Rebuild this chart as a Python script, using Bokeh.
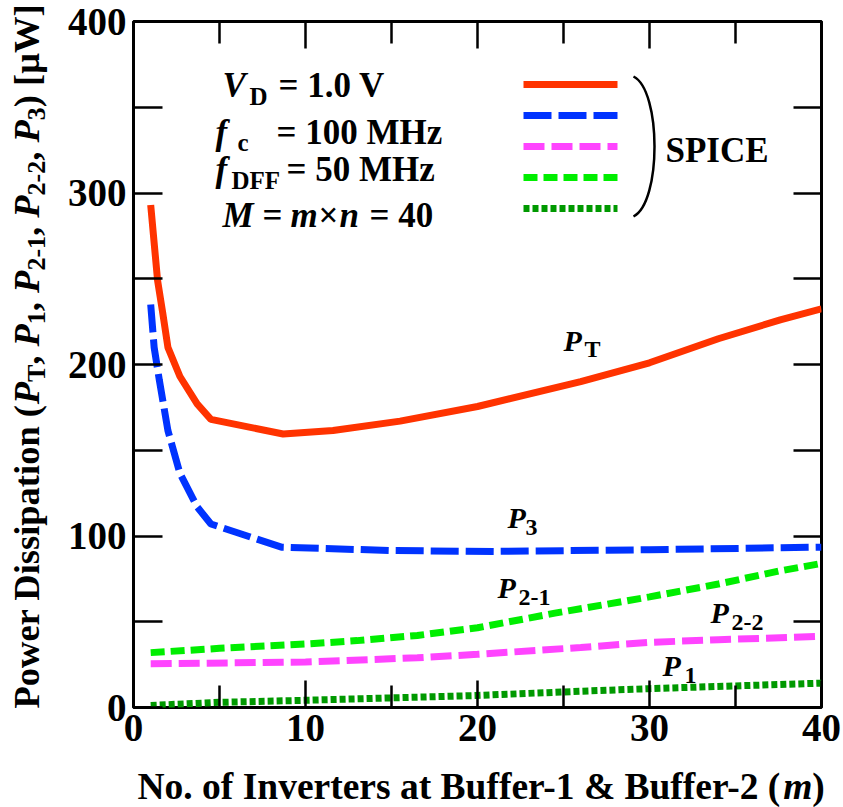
from math import pi
from bokeh.plotting import figure
from bokeh.models import LinearAxis, FixedTicker, Label, Range1d
from bokeh.layouts import row, column
from bokeh.embed import file_html
from bokeh.resources import INLINE

# ---------------- data ----------------
m_PT = [1, 1.4, 1.7, 2.0, 2.7, 3.7, 4.5, 8.7, 11.6, 15.5, 20, 26, 30, 34, 37.6, 40]
P_T  = [293, 249, 230, 210, 193, 177, 168, 159.5, 161.5, 167, 175.5, 190, 201, 215, 226, 232.5]

m_P3 = [1, 1.2, 1.5, 2.0, 2.7, 3.7, 4.5, 8.6, 15, 21, 30, 40]
P_3  = [235, 210, 191, 161.5, 136.5, 117, 107, 93.5, 91.5, 91, 92, 93.5]

m_P21 = [1, 5, 10, 13, 16.5, 20, 24.5, 30, 34, 37.5, 40]
P_21  = [32, 34.5, 37, 39, 42, 46.5, 55, 64.5, 72, 79.5, 84]

m_P22 = [1, 10, 16.5, 20, 26, 30, 34, 40]
P_22  = [25.5, 26.5, 29, 31, 35, 38, 39.5, 41.5]

m_P1 = [1, 5, 10, 16.5, 20, 26, 30, 40]
P_1  = [1.2, 3, 4.2, 6, 7, 9.5, 11, 14.2]

x_ticks = [0, 10, 20, 30, 40]
x_minor = [5, 15, 25, 35]
y_ticks = [0, 100, 200, 300, 400]
y_minor = [50, 150, 250, 350]

# ---------------- layout constants (page pixels) ----------------
FONT = "Liberation Serif"
W, H = 843, 807
YW = 50            # width of the y-label strip
XH = 40            # height of the x-label strip
L, R, T, B = 133, 821, 21, 707   # plot frame in page pixels
X0, X1, Y0, Y1 = 0, 40, 0, 400
MID = 0.335        # Label text is centred on its anchor: cap-middle offset from baseline (em)

def dx(px):
    return X0 + (px - L) / (R - L) * (X1 - X0)

def dy(py):
    return Y0 + (B - py) / (B - T) * (Y1 - Y0)

MH = H - XH
p = figure(width=W - YW, height=MH, x_range=Range1d(X0, X1), y_range=Range1d(Y0, Y1),
           output_backend="svg", toolbar_location=None,
           x_axis_location=None, y_axis_location=None,
           min_border_left=L - YW, min_border_right=W - R, min_border_top=T, min_border_bottom=MH - B)
p.xgrid.visible = False
p.ygrid.visible = False
p.outline_line_color = "black"
p.outline_line_width = 3
p.background_fill_color = "white"
p.border_fill_color = "white"

bot_ax, top_ax, left_ax, right_ax = LinearAxis(), LinearAxis(), LinearAxis(), LinearAxis()
p.add_layout(bot_ax, "below")
p.add_layout(top_ax, "above")
p.add_layout(left_ax, "left")
p.add_layout(right_ax, "right")

def style_axis(ax, ticks, minor, tick_len, minor_len, labels):
    ax.ticker = FixedTicker(ticks=ticks, minor_ticks=minor)
    ax.axis_line_color = None
    ax.major_tick_in = tick_len
    ax.major_tick_out = 0
    ax.minor_tick_in = minor_len
    ax.minor_tick_out = 0
    ax.major_tick_line_width = 2.5
    ax.minor_tick_line_width = 2.5
    ax.major_tick_line_color = "black"
    ax.minor_tick_line_color = "black"
    if labels:
        ax.major_label_text_font = FONT
        ax.major_label_text_font_style = "bold"
        ax.major_label_text_font_size = "39px"
        ax.major_label_text_color = "black"
        ax.major_label_standoff = 7
    else:
        ax.major_label_text_font_size = "0px"
        ax.major_label_text_color = None
        ax.major_label_text_alpha = 0
        ax.major_label_standoff = 0

style_axis(bot_ax, x_ticks, x_minor, 27, 22, True)
style_axis(top_ax, x_ticks, x_minor, 27, 22, False)
style_axis(left_ax, y_ticks, y_minor, 29, 29, True)
style_axis(right_ax, y_ticks, y_minor, 28, 28, False)

# ---------------- series ----------------
series = [
    (m_PT, P_T, "#FF3300", "solid"),
    (m_P3, P_3, "#0033FF", "28 7"),
    (m_P22, P_22, "#FF44FF", "21 7"),
    (m_P21, P_21, "#00EE00", "14 6"),
    (m_P1, P_1, "#009900", "6 3"),
]
for xs, ys, col, dash in series:
    p.line(xs, ys, line_color=col, line_width=7, line_dash=dash)

# legend samples
leg_y = [84, 115, 146, 177, 208]
for (xs, ys, col, dash), ly in zip(series, leg_y):
    p.segment(x0=[dx(523)], y0=[dy(ly)], x1=[dx(617)], y1=[dy(ly)],
              line_color=col, line_width=7, line_dash=dash)

# bracket
p.bezier(x0=[dx(633)], y0=[dy(76)], x1=[dx(633)], y1=[dy(216)],
         cx0=[dx(661)], cy0=[dy(90)], cx1=[dx(661)], cy1=[dy(202)],
         line_color="black", line_width=2.5)

# ---------------- text helpers ----------------
WB = {' ': 250, '(': 333, ')': 333, ',': 250, '-': 333, '.': 250, '=': 570, '[': 333, ']': 333,
      '&': 833, '×': 570, 'μ': 556, 'A': 722, 'B': 667, 'C': 722, 'D': 722, 'E': 667, 'F': 611,
      'H': 778, 'I': 389, 'M': 944, 'N': 722, 'P': 611, 'S': 556, 'T': 667, 'V': 722, 'W': 1000,
      'a': 500, 'b': 556, 'c': 444, 'd': 556, 'e': 444, 'f': 333, 'i': 278, 'n': 556, 'o': 500,
      'p': 556, 'r': 444, 's': 389, 't': 333, 'u': 556, 'v': 500, 'w': 722, 'z': 444, 'm': 833, 'x': 500}
WBI = {'P': 611, 'V': 667, 'M': 889, 'm': 778, 'n': 556, 'f': 333, 'T': 611}
BI, BD = "bold italic", "bold"

def tw(s, style, size):
    tab = WBI if "italic" in style else WB
    return sum(tab.get(c, 500) for c in s) * size / 1000.0

def mk_label(fig, x, y, s, size, style, angle=0.0):
    fig.add_layout(Label(x=x, y=y, text=s, text_font=FONT,
                         text_font_size=f"{size}px", text_font_style=style,
                         text_color="black", text_align="left",
                         text_baseline="middle", angle=angle))

def txt(px, py, s, size, style=BD):
    # (px, py): left end and baseline, page pixels
    mk_label(p, dx(px), dy(py - MID * size), s, size, style)

def strip(w, h):
    f = figure(width=w, height=h, x_range=Range1d(0, w), y_range=Range1d(0, h),
               output_backend="svg", toolbar_location=None,
               x_axis_location=None, y_axis_location=None, min_border=0)
    f.xgrid.visible = False
    f.ygrid.visible = False
    f.outline_line_color = None
    f.background_fill_color = "white"
    f.border_fill_color = "white"
    return f

# ---------------- y-axis label strip ----------------
yfig = strip(YW, MH)
FS, SS = 36.5, 26
ypieces = [
    ("Power Dissipation (", BD, FS, 0), ("P", BI, FS, 0), ("T", BD, SS, 7), (", ", BD, FS, 0),
    ("P", BI, FS, 0), ("1", BD, SS, 7), (", ", BD, FS, 0),
    ("P", BI, FS, 0), ("2-1", BD, SS, 7), (", ", BD, FS, 0),
    ("P", BI, FS, 0), ("2-2", BD, SS, 7), (", ", BD, FS, 0),
    ("P", BI, FS, 0), ("3", BD, SS, 7), (") [μW]", BD, FS, 0),
]
ypos = 708
for s, style, size, shift in ypieces:
    mk_label(yfig, 38 + shift - MID * size, MH - ypos, s, size, style, angle=pi / 2)
    ypos -= tw(s, style, size)

# ---------------- x-axis label strip ----------------
xfig = strip(W, XH)
XF = 37.5
xpos = 137
for s, style in [("No. of Inverters at Buffer-1 & Buffer-2 (", BD), ("m", BI), (")", BD)]:
    mk_label(xfig, xpos, H - (799 - MID * XF), s, XF, style)
    xpos += tw(s, style, XF)

# ---------------- condition block ----------------
AF, AS = 35, 25
txt(222, 97, "V", AF, BI); txt(249, 104, "D", AS); txt(278, 97, "= 1.0 V", AF)
txt(215, 144, "f", AF, BI); txt(237, 150, "c", AS); txt(276, 144, "= 100 MHz", AF)
txt(215, 181, "f", AF, BI); txt(231, 188, "DFF", AS); txt(286, 181, "= 50 MHz", AF)
txt(222, 227, "M", AF, BI); txt(262, 227, "=", AF); txt(290, 227, "m", AF, BI)
txt(318, 227, "×", AF); txt(339, 227, "n", AF, BI); txt(369, 227, "= 40", AF)

txt(665, 162, "SPICE", 35)

# ---------------- curve labels ----------------
CF, CS = 30, 24
txt(563, 350, "P", CF, BI); txt(584, 357, "T", CS)
txt(507, 527, "P", CF, BI); txt(525, 535, "3", CS)
txt(497, 597, "P", CF, BI); txt(518, 605, "2-1", CS)
txt(710, 622, "P", CF, BI); txt(731, 630, "2-2", CS)
txt(662, 675, "P", CF, BI); txt(684, 683, "1", CS)

layout = column(row(column(yfig), p), xfig)
open("out.html", "w").write(file_html(layout, INLINE))
